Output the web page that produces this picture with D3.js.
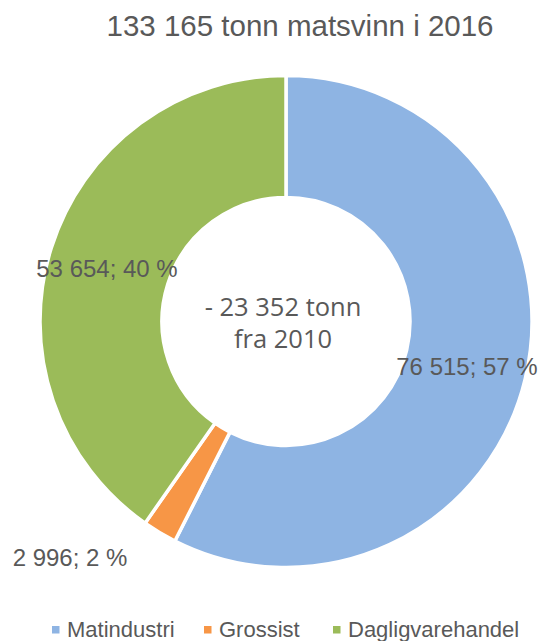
<!DOCTYPE html>
<html><head><meta charset="utf-8">
<script src="https://cdn.jsdelivr.net/npm/d3@7"></script>
<style>body{margin:0;background:#fff}</style>
</head><body>
<svg id="c" width="559" height="641"></svg>
<script>
const categories = ["Matindustri", "Grossist", "Dagligvarehandel"];
const values = [76515, 2996, 53654];
const percents = ["57 %", "2 %", "40 %"];
const valueLabels = ["76 515", "2 996", "53 654"];
const colors = ["#8EB4E3", "#F79646", "#9BBB59"];
const title = "133 165 tonn matsvinn i 2016";
const centerLines = ["- 23 352 tonn", "fra 2010"];

const svg = d3.select("#c");
const cx = 286, cy = 321.5, R = 246, r = 124;
const textColor = "#595959";
const sans = "'Liberation Sans', Arial, sans-serif";

svg.append("text").attr("x", 300).attr("y", 36).attr("text-anchor", "middle")
  .attr("font-family", sans).attr("font-size", 29.5)
  .attr("fill", textColor).text(title);

const pie = d3.pie().sort(null).value(d => d)(values);
const arc = d3.arc().innerRadius(r).outerRadius(R);
const g = svg.append("g").attr("transform", `translate(${cx},${cy})`);
g.selectAll("path").data(pie).join("path")
  .attr("d", arc).attr("fill", (d, i) => colors[i])
  .attr("stroke", "#fff").attr("stroke-width", 3.5).attr("stroke-linejoin", "miter");

const labelPos = [[467, 375], [70, 566], [107, 277]];
svg.selectAll("text.lbl").data(pie).join("text").attr("class", "lbl")
  .attr("x", (d, i) => labelPos[i][0]).attr("y", (d, i) => labelPos[i][1])
  .attr("text-anchor", "middle")
  .attr("font-family", sans).attr("font-size", 24)
  .attr("fill", textColor)
  .text((d, i) => `${valueLabels[i]}; ${percents[i]}`);

svg.selectAll("text.ctr").data(centerLines).join("text").attr("class", "ctr")
  .attr("x", 283).attr("y", (d, i) => 316 + i * 32).attr("text-anchor", "middle")
  .attr("font-family", "'Open Sans', sans-serif").attr("font-size", 25.5)
  .attr("fill", textColor).text(d => d);

const legX = [52, 204, 333];
const leg = svg.selectAll("g.leg").data(categories).join("g").attr("class", "leg")
  .attr("transform", (d, i) => `translate(${legX[i]},626)`);
leg.append("rect").attr("x", 0).attr("y", 0).attr("width", 7.5).attr("height", 7.5)
  .attr("fill", (d, i) => colors[i]);
leg.append("text").attr("x", 15).attr("y", 10.5).attr("font-family", sans)
  .attr("font-size", 22).attr("fill", textColor).text(d => d);
</script>
</body></html>
